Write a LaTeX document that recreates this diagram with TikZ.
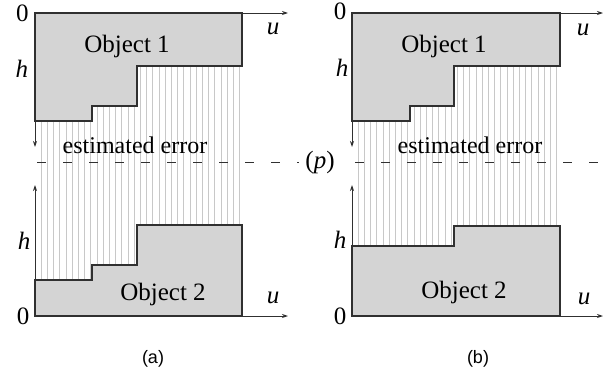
\documentclass[tikz,border=0pt]{standalone}
\usepackage{fontspec}
\setmainfont{Liberation Serif}
\newfontfamily\capfont{Liberation Sans}
\usetikzlibrary{arrows.meta}
\definecolor{objfill}{HTML}{D4D4D4}
\definecolor{objline}{HTML}{303030}
\definecolor{hatchgray}{HTML}{C8C8C8}
\tikzset{
  objshape/.style={fill=objfill, draw=objline, line width=1.1pt, line join=miter},
  axis/.style={draw=objline, line width=0.9pt, -{Stealth[length=6pt,width=4pt]}},
  hatch/.style={draw=hatchgray, line width=0.8pt},
  errline/.style={draw=objline, line width=0.8pt, dash pattern=on 9pt off 17pt},
  lbl/.style={inner sep=0pt, font=\fontsize{25}{25}\selectfont},
  objtext/.style={inner sep=0pt, anchor=base, font=\fontsize{25}{25}\selectfont},
  errtext/.style={inner sep=0pt, anchor=base, font=\fontsize{24}{24}\selectfont},
  captext/.style={inner sep=0pt, font=\capfont\fontsize{18}{18}\selectfont}
}
\begin{document}
\begin{tikzpicture}[x=1pt, y=-1pt]
\useasboundingbox (0,0) rectangle (606,383);

% ---------- panel (a) ----------
% error region hatching between the two profiles
\begin{scope}
  \clip (35,121) -- (92,121) -- (92,106) -- (137,106) -- (137,66) -- (242,66)
        -- (242,225) -- (137,225) -- (137,265) -- (92,265) -- (92,280) -- (35,280) -- cycle;
  \foreach \k in {1,...,34} {
    \draw[hatch] ({35+6.2*\k},60) -- ({35+6.2*\k},290);
  }
\end{scope}
% object 1 (hanging from the top axis)
\draw[objshape] (35,13) -- (242,13) -- (242,66) -- (137,66) -- (137,106)
      -- (92,106) -- (92,121) -- (35,121) -- cycle;
% object 2 (standing on the bottom axis)
\draw[objshape] (35,316) -- (242,316) -- (242,225) -- (137,225) -- (137,265)
      -- (92,265) -- (92,280) -- (35,280) -- cycle;
% axes
\coordinate (aTO) at (35,13);
\coordinate (aTU) at (288,13);
\coordinate (aTH) at (35,147);
\coordinate (aBO) at (35,316);
\coordinate (aBU) at (288,316);
\coordinate (aBH) at (35,185);
\draw[axis] (aTO) -- (aTU);
\draw[axis] (aTO) -- (aTH);
\draw[axis] (aBO) -- (aBU);
\draw[axis] (aBO) -- (aBH);
% separating dashed line
\coordinate (aDL) at (37,162);
\coordinate (aDR) at (299,162);
\draw[errline] (aDL) -- (aDR);
% labels
\node[lbl] (aZeroT) at (22.5,13) {0};
\node[lbl] (aUT) at (273,29) {\textit{u}};
\node[lbl] (aHT) at (22,69) {\textit{h}};
\node[objtext] (aObj1) at (127,52) {Object 1};
\node[errtext] (aErr) at (135,153) {estimated error};
\node[lbl] (aHB) at (24,241) {\textit{h}};
\node[lbl] (aZeroB) at (23,316) {0};
\node[lbl] (aUB) at (273,298) {\textit{u}};
\node[objtext] (aObj2) at (163,300) {Object 2};
\node[captext] (capA) at (153,359) {(a)};

% ---------- panel (b) ----------
\begin{scope}
  \clip (352,121) -- (410,121) -- (410,106) -- (454,106) -- (454,66) -- (560,66)
        -- (560,226) -- (454,226) -- (454,246) -- (352,246) -- cycle;
  \foreach \k in {1,...,34} {
    \draw[hatch] ({352+6.2*\k},60) -- ({352+6.2*\k},290);
  }
\end{scope}
\draw[objshape] (352,13) -- (560,13) -- (560,66) -- (454,66) -- (454,106)
      -- (410,106) -- (410,121) -- (352,121) -- cycle;
\draw[objshape] (352,316) -- (560,316) -- (560,226) -- (454,226) -- (454,246)
      -- (352,246) -- cycle;
\coordinate (bTO) at (352,13);
\coordinate (bTU) at (603,13);
\coordinate (bTH) at (352,147);
\coordinate (bBO) at (352,316);
\coordinate (bBU) at (603,316);
\coordinate (bBH) at (352,185);
\draw[axis] (bTO) -- (bTU);
\draw[axis] (bTO) -- (bTH);
\draw[axis] (bBO) -- (bBU);
\draw[axis] (bBO) -- (bBH);
\coordinate (bDL) at (355,162);
\coordinate (bDR) at (606,162);
\draw[errline] (bDL) -- (bDR);
\node[lbl] (bZeroT) at (340,11) {0};
\node[lbl] (bUT) at (583,30) {\textit{u}};
\node[lbl] (bHT) at (342,68) {\textit{h}};
\node[objtext] (bObj1) at (444,52) {Object 1};
\node[errtext] (bErr) at (470,153) {estimated error};
\node[lbl] (bP) at (320,162) {(\textit{p})};
\node[lbl] (bHB) at (340,240) {\textit{h}};
\node[lbl] (bZeroB) at (340,316) {0};
\node[lbl] (bUB) at (584,299) {\textit{u}};
\node[objtext] (bObj2) at (464,298) {Object 2};
\node[captext] (capB) at (478,359) {(b)};
\end{tikzpicture}
\end{document}
